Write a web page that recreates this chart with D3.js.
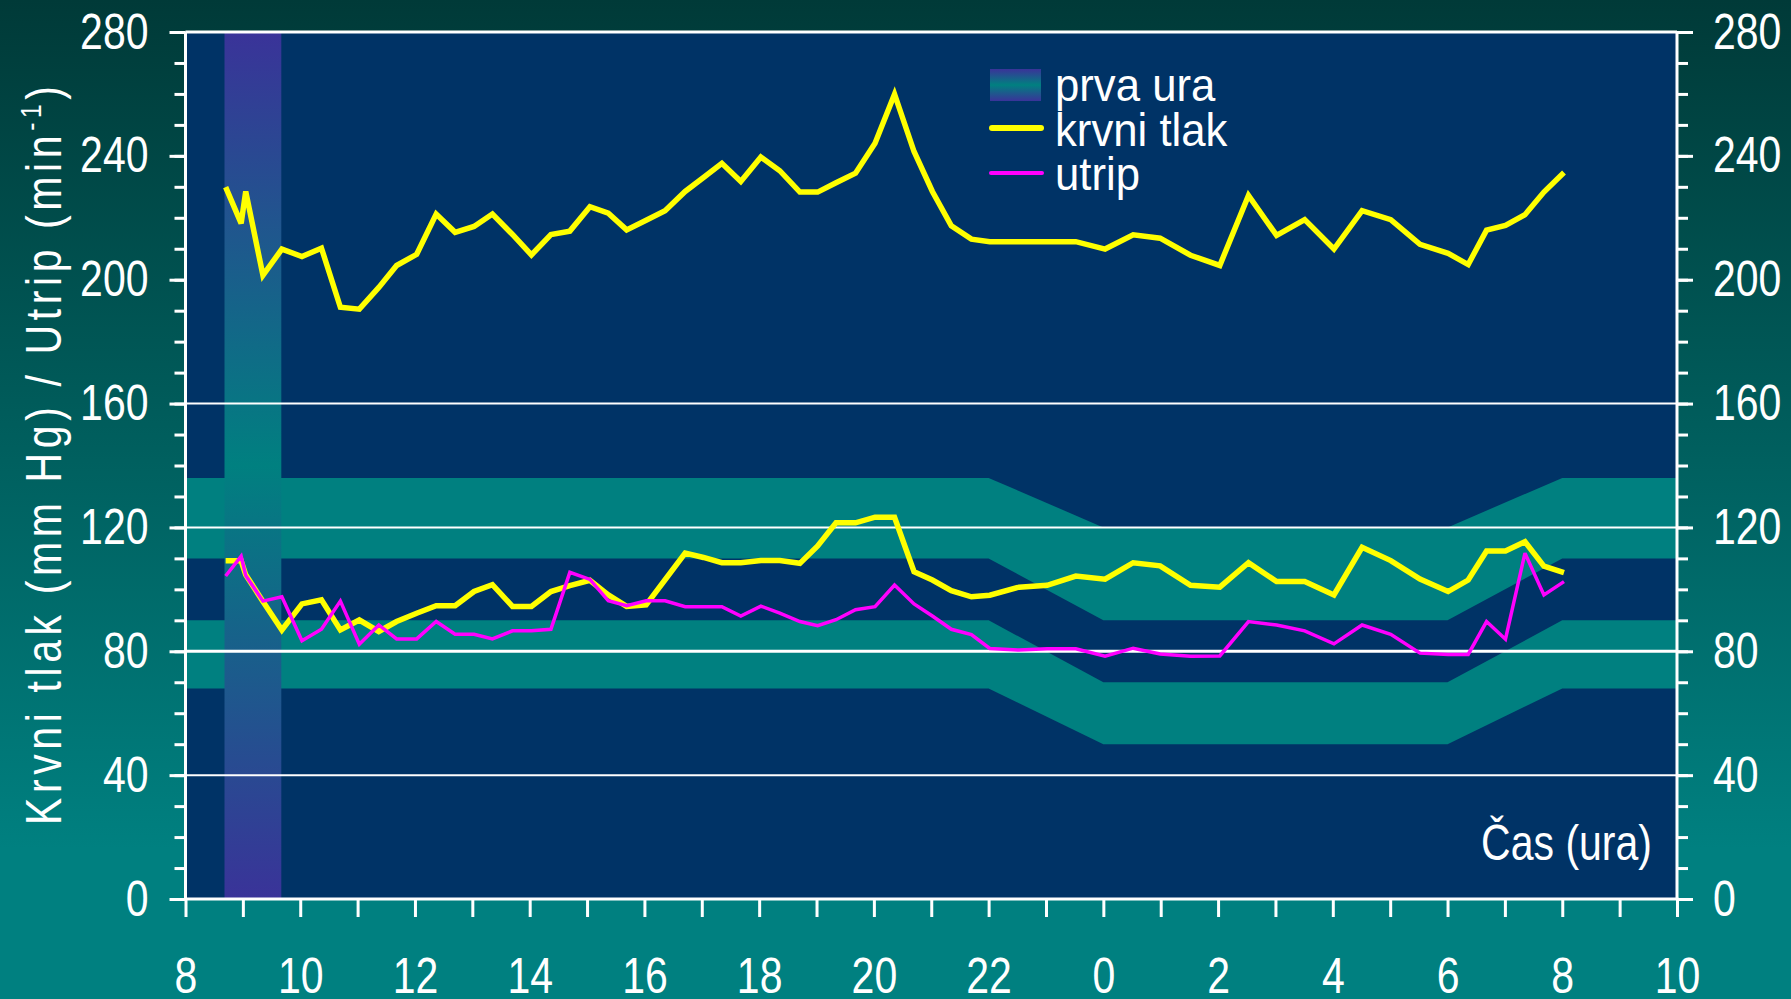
<!DOCTYPE html>
<html>
<head>
<meta charset="utf-8">
<script src="https://cdn.jsdelivr.net/npm/d3@7"></script>
<style>
  html, body { margin: 0; padding: 0; background: #006060; }
  svg { display: block; }
  text { font-family: "Liberation Sans", Arimo, Arial, sans-serif; fill: #ffffff; }
</style>
</head>
<body>
<svg id="chart" width="1791" height="999"></svg>
<script>
// ---- data ----
const hours = [8.70, 8.97, 9.05, 9.35, 9.68, 10.03, 10.37, 10.70, 11.03, 11.37, 11.68, 12.03, 12.37, 12.70, 13.03, 13.35, 13.70, 14.03, 14.37, 14.70, 15.05, 15.37, 15.69, 16.03, 16.36, 16.71, 17.03, 17.35, 17.68, 18.03, 18.36, 18.71, 19.02, 19.34, 19.68, 20.02, 20.36, 20.70, 21.02, 21.35, 21.70, 22.02, 22.53, 23.02, 23.52, 24.03, 24.52, 24.99, 25.52, 26.03, 26.53, 27.02, 27.51, 28.02, 28.51, 29.01, 29.52, 30.01, 30.36, 30.68, 31.01, 31.35, 31.68, 32.03];
const systolic = [229.9, 218.2, 228.5, 201.4, 209.9, 207.5, 210.2, 191.1, 190.5, 197.5, 204.6, 208.2, 221.2, 215.3, 217.2, 221.2, 214.6, 208.0, 214.6, 215.7, 223.6, 221.5, 216.1, 219.2, 222.3, 228.5, 233.0, 237.6, 231.7, 239.6, 235.2, 228.3, 228.3, 231.3, 234.4, 244.1, 259.9, 241.4, 228.5, 217.4, 213.1, 212.3, 212.3, 212.3, 212.3, 209.9, 214.5, 213.4, 207.9, 204.6, 227.2, 214.3, 219.4, 209.9, 222.3, 219.4, 211.4, 208.5, 204.9, 216.0, 217.5, 221.0, 228.3, 234.6];
const diastolic = [109.2, 109.2, 104.7, 96.1, 86.9, 95.3, 96.6, 86.9, 90.1, 86.4, 89.6, 92.3, 94.7, 94.7, 99.3, 101.5, 94.5, 94.5, 99.3, 101.2, 102.9, 98.2, 94.5, 95.0, 103.1, 111.7, 110.3, 108.6, 108.6, 109.3, 109.3, 108.4, 114.0, 121.5, 121.5, 123.3, 123.3, 105.7, 103.0, 99.6, 97.6, 98.1, 100.7, 101.3, 104.3, 103.3, 108.6, 107.6, 101.3, 100.7, 108.6, 102.5, 102.5, 98.2, 113.6, 109.3, 103.3, 99.3, 103.0, 112.4, 112.4, 115.4, 107.5, 105.4];
const pulse = [104.3, 110.7, 104.5, 96.2, 97.6, 83.4, 87.1, 96.2, 82.3, 88.5, 84.0, 84.0, 89.6, 85.5, 85.5, 84.0, 86.6, 86.6, 87.1, 105.5, 103.2, 96.3, 94.7, 96.3, 96.3, 94.4, 94.4, 94.4, 91.4, 94.6, 92.3, 89.6, 88.3, 90.2, 93.4, 94.4, 101.4, 95.3, 91.4, 87.1, 85.4, 80.9, 80.4, 80.8, 80.8, 78.4, 81.0, 79.1, 78.4, 78.5, 89.6, 88.5, 86.6, 82.4, 88.5, 85.5, 79.4, 79.0, 79.0, 89.6, 83.9, 111.7, 98.2, 102.5];

// normal-range bands (day / night)
const bandHours   = [8, 22, 24, 30, 32, 34];
const sysBandLow  = [110, 110, 90, 90, 110, 110];
const sysBandHigh = [136, 136, 120, 120, 136, 136];
const diaBandLow  = [68, 68, 50, 50, 68, 68];
const diaBandHigh = [90, 90, 70, 70, 90, 90];

// first hour highlight
const firstHour = [8.68, 9.67];

// axes
const xDomain = [8, 34];
const yDomain = [0, 280];
const xTickHours = d3.range(8, 35, 1);
const yMinorTicks = d3.range(0, 281, 10);
const yMajorTicks = [0, 40, 80, 120, 160, 200, 240, 280];
const gridValues = [40, 80, 120, 160];

const legendLabels = ["prva ura", "krvni tlak", "utrip"];
const yTitle = "Krvni tlak (mm Hg) / Utrip (min";
const xTitle = "Čas (ura)";

// ---- layout ----
const W = 1791, H = 999;
const L = 185.5, R = 1677, T = 32, B = 899;
const NARROW = 0.82;
const svg = d3.select("#chart");
const defs = svg.append("defs");

// squeeze a text horizontally around its own x anchor
function squeeze(sel, s) {
  sel.each(function () {
    const t = d3.select(this);
    const ax = +(t.attr("x") || 0);
    t.attr("transform", `translate(${ax * (1 - s)},0) scale(${s},1)`);
  });
}

const bg = defs.append("linearGradient").attr("id", "bgGrad")
  .attr("x1", 0).attr("y1", 0).attr("x2", 0).attr("y2", 1);
bg.append("stop").attr("offset", 0).attr("stop-color", "#003a38");
bg.append("stop").attr("offset", 0.85).attr("stop-color", "#008080");
bg.append("stop").attr("offset", 1).attr("stop-color", "#008080");

function colGrad(id) {
  const g = defs.append("linearGradient").attr("id", id)
    .attr("x1", 0).attr("y1", 0).attr("x2", 0).attr("y2", 1);
  g.append("stop").attr("offset", 0).attr("stop-color", "#3a3399");
  g.append("stop").attr("offset", 0.5).attr("stop-color", "#008080");
  g.append("stop").attr("offset", 1).attr("stop-color", "#3a3399");
}
colGrad("colGrad");
colGrad("legGrad");

svg.append("rect").attr("width", W).attr("height", H).attr("fill", "url(#bgGrad)");

const x = d3.scaleLinear().domain(xDomain).range([L, R]);
const y = d3.scaleLinear().domain(yDomain).range([B, T]);

// plot background
svg.append("rect").attr("x", x(xDomain[0])).attr("y", y(yDomain[1]))
  .attr("width", x(xDomain[1]) - x(xDomain[0])).attr("height", y(yDomain[0]) - y(yDomain[1]))
  .attr("fill", "#003366");

// bands
const bandIdx = d3.range(bandHours.length);
function band(lo, hi) {
  const area = d3.area().x(i => x(bandHours[i])).y0(i => y(lo[i])).y1(i => y(hi[i]));
  svg.append("path").attr("d", area(bandIdx)).attr("fill", "#008080");
}
band(sysBandLow, sysBandHigh);
band(diaBandLow, diaBandHigh);

// first hour column
svg.append("rect").attr("x", x(firstHour[0])).attr("y", y(yDomain[1]))
  .attr("width", x(firstHour[1]) - x(firstHour[0])).attr("height", y(yDomain[0]) - y(yDomain[1]))
  .attr("fill", "url(#colGrad)");

// gridlines
svg.selectAll("line.grid").data(gridValues).enter().append("line")
  .attr("x1", x(xDomain[0])).attr("x2", x(xDomain[1]))
  .attr("y1", d => y(d)).attr("y2", d => y(d))
  .attr("stroke", "#ffffff").attr("stroke-width", d => d === 80 ? 3 : 2);

// series
const idx = d3.range(hours.length);
function series(vals, color, w) {
  const line = d3.line().x(i => x(hours[i])).y(i => y(vals[i]));
  svg.append("path").attr("d", line(idx)).attr("fill", "none")
    .attr("stroke", color).attr("stroke-width", w).attr("stroke-linejoin", "miter")
    .attr("stroke-miterlimit", 3);
}
series(systolic, "#ffff00", 5.5);
series(diastolic, "#ffff00", 5.5);
series(pulse, "#ff00ff", 3.5);

// top border
svg.append("line").attr("x1", x(xDomain[0])).attr("x2", x(xDomain[1]))
  .attr("y1", y(yDomain[1])).attr("y2", y(yDomain[1]))
  .attr("stroke", "#ffffff").attr("stroke-width", 3);

// axes
function styleAxis(g) {
  g.select(".domain").remove();
  g.selectAll(".tick line").attr("stroke", "#ffffff").attr("stroke-width", 3);
  g.selectAll("text").attr("fill", "#ffffff").style("font-size", "50px")
    .style("font-family", '"Liberation Sans", Arimo, Arial, sans-serif')
    .call(squeeze, NARROW);
}
// left
svg.append("g").attr("transform", `translate(${L},0)`)
  .call(d3.axisLeft(y).tickValues(yMinorTicks).tickSize(11).tickFormat(""))
  .call(styleAxis);
svg.append("g").attr("transform", `translate(${L},0)`)
  .call(d3.axisLeft(y).tickValues(yMajorTicks).tickSize(16).tickPadding(21).tickFormat(d3.format("d")))
  .call(styleAxis);
// right
svg.append("g").attr("transform", `translate(${R},0)`)
  .call(d3.axisRight(y).tickValues(yMinorTicks).tickSize(11).tickFormat(""))
  .call(styleAxis);
svg.append("g").attr("transform", `translate(${R},0)`)
  .call(d3.axisRight(y).tickValues(yMajorTicks).tickSize(16).tickPadding(20).tickFormat(d3.format("d")))
  .call(styleAxis);
// bottom
svg.append("g").attr("transform", `translate(0,${B})`)
  .call(d3.axisBottom(x).tickValues(xTickHours).tickSize(18).tickPadding(41)
    .tickFormat(h => h % 2 === 0 ? String(h % 24) : ""))
  .call(styleAxis);

// axis lines
svg.append("line").attr("x1", L).attr("x2", L).attr("y1", T).attr("y2", B)
  .attr("stroke", "#fff").attr("stroke-width", 3);
svg.append("line").attr("x1", R).attr("x2", R).attr("y1", T).attr("y2", B)
  .attr("stroke", "#fff").attr("stroke-width", 3);
svg.append("line").attr("x1", L - 1.5).attr("x2", R + 1.5).attr("y1", B).attr("y2", B)
  .attr("stroke", "#fff").attr("stroke-width", 3);

// y title (narrow glyphs, spaced out)
const yt = svg.append("text")
  .attr("transform", `translate(61,${(T + B) / 2 - 10}) rotate(-90) scale(${NARROW},1)`)
  .attr("text-anchor", "middle")
  .attr("textLength", 739 / NARROW).attr("lengthAdjust", "spacing")
  .style("font-size", "50px");
yt.append("tspan").text(yTitle);
yt.append("tspan").attr("dy", -20).style("font-size", "30px").text("-1");
yt.append("tspan").attr("dy", 20).text(")");

// x title
svg.append("text").attr("x", 1652).attr("y", 860).attr("text-anchor", "end")
  .style("font-size", "50px").text(xTitle).call(squeeze, NARROW);

// legend
const lg = svg.append("g");
lg.append("rect").attr("x", 990).attr("y", 69).attr("width", 51).attr("height", 32)
  .attr("fill", "url(#legGrad)");
lg.append("line").attr("x1", 992).attr("x2", 1041).attr("y1", 128).attr("y2", 128)
  .attr("stroke", "#ffff00").attr("stroke-width", 6).attr("stroke-linecap", "round");
lg.append("line").attr("x1", 991).attr("x2", 1042).attr("y1", 173).attr("y2", 173)
  .attr("stroke", "#ff00ff").attr("stroke-width", 4).attr("stroke-linecap", "round");
const legY = [101, 146, 190];
legendLabels.forEach((t, i) => {
  lg.append("text").attr("x", 1055).attr("y", legY[i])
    .style("font-size", "47px").text(t).call(squeeze, 0.93);
});
</script>
</body>
</html>
